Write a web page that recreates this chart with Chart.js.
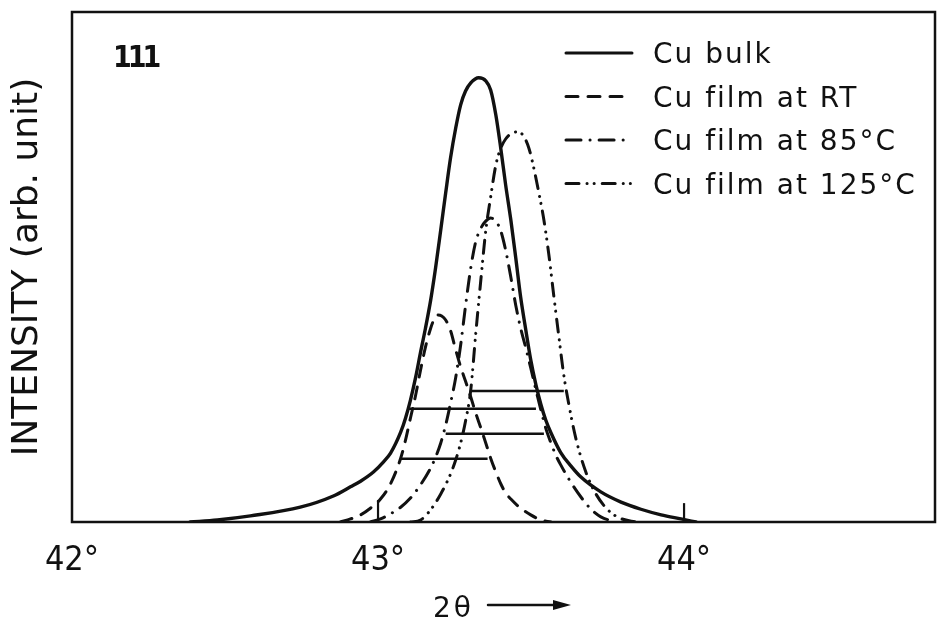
<!DOCTYPE html>
<html>
<head>
<meta charset="utf-8">
<script src="https://cdn.jsdelivr.net/npm/chart.js@4.4.1/dist/chart.umd.min.js"></script>
<style>
  body { margin: 0; background: #fff; }
  canvas { display: block; }
</style>
</head>
<body>
<canvas id="chartCanvas" width="937" height="624"></canvas>
<script>
// values: 2-theta in degrees, intensity in arb. units (frame top = 100)
const xTicks = [42, 43, 44];
const reflection = '111';
const seriesNames = ['Cu bulk', 'Cu film at RT', 'Cu film at 85°C', 'Cu film at 125°C'];

const bulkTheta = [42.386, 42.475, 42.583, 42.746, 42.854, 42.910, 42.943, 42.985, 43.018, 43.041, 43.074, 43.090, 43.106, 43.123, 43.139, 43.155, 43.172, 43.188, 43.205, 43.221, 43.237, 43.254, 43.270, 43.286, 43.303, 43.329, 43.352, 43.368, 43.385, 43.401, 43.417, 43.434, 43.450, 43.466, 43.483, 43.499, 43.516, 43.532, 43.548, 43.565, 43.597, 43.630, 43.663, 43.728, 43.794, 43.859, 43.925, 43.990, 44.039];
const bulkInt = [0, 0.4, 1.2, 2.9, 5.1, 6.9, 8.0, 9.8, 11.8, 13.5, 17.6, 20.4, 23.9, 28.4, 33.3, 38.0, 43.5, 49.8, 57.3, 64.5, 71.4, 77.3, 81.8, 84.5, 86.1, 87.1, 86.5, 84.7, 79.8, 73.3, 66.1, 59.2, 51.8, 44.1, 37.6, 31.8, 26.9, 23.1, 20.0, 17.5, 13.6, 11.0, 8.8, 5.9, 3.9, 2.5, 1.4, 0.6, 0];

const rtTheta = [42.877, 42.910, 42.943, 42.975, 43.008, 43.041, 43.074, 43.090, 43.106, 43.123, 43.139, 43.155, 43.172, 43.182, 43.195, 43.208, 43.221, 43.237, 43.254, 43.270, 43.286, 43.303, 43.319, 43.336, 43.352, 43.368, 43.385, 43.401, 43.417, 43.434, 43.466, 43.499, 43.532, 43.565];
const rtInt = [0, 0.6, 1.4, 2.7, 4.5, 7.5, 12.5, 16.1, 20.4, 24.9, 29.8, 34.3, 38.0, 39.6, 40.6, 40.4, 39.6, 37.5, 33.7, 30.4, 27.6, 24.5, 21.4, 18.4, 15.5, 12.5, 9.8, 7.5, 5.7, 4.5, 2.7, 1.4, 0.4, 0];

const t85Theta = [42.975, 43.008, 43.041, 43.074, 43.106, 43.139, 43.172, 43.188, 43.205, 43.221, 43.237, 43.254, 43.270, 43.286, 43.303, 43.319, 43.336, 43.352, 43.368, 43.385, 43.401, 43.417, 43.434, 43.450, 43.466, 43.483, 43.499, 43.516, 43.532, 43.548, 43.565, 43.581, 43.597, 43.630, 43.663, 43.696, 43.728, 43.777];
const t85Int = [0, 0.6, 1.6, 2.9, 4.7, 7.3, 10.6, 12.7, 15.5, 19.0, 23.3, 28.4, 34.7, 42.4, 49.8, 54.9, 57.6, 59.0, 59.6, 59.0, 57.1, 53.3, 48.0, 42.5, 38.0, 34.1, 30.2, 25.9, 22.0, 18.4, 15.5, 13.1, 11.2, 7.8, 4.9, 2.5, 1.0, 0];

const t125Theta = [43.106, 43.139, 43.172, 43.205, 43.237, 43.254, 43.270, 43.286, 43.303, 43.319, 43.336, 43.352, 43.368, 43.385, 43.401, 43.417, 43.434, 43.453, 43.473, 43.493, 43.509, 43.525, 43.542, 43.558, 43.574, 43.591, 43.607, 43.624, 43.646, 43.679, 43.712, 43.754, 43.797, 43.843];
const t125Int = [0, 0.4, 2.4, 5.5, 9.4, 12.2, 15.5, 19.8, 25.9, 36.7, 47.5, 57.1, 63.7, 70.0, 73.3, 75.1, 76.1, 76.5, 75.9, 73.3, 69.4, 64.7, 59.2, 52.5, 44.5, 36.3, 28.8, 22.9, 16.5, 9.8, 5.5, 2.2, 0.6, 0];

// width bars drawn across each peak (same order as seriesNames)
const barLevel = [22.2, 12.4, 17.3, 25.7];
const barFrom = [43.100, 43.074, 43.221, 43.300];
const barTo = [43.516, 43.358, 43.542, 43.607];

// inner tick marks on the baseline
const innerTickValues = [43, 44];
const tickMarkHeight = [4.3, 3.7];

const ink = '#111';
const dashes = [[], [12, 10], [15, 9, 0.1, 9], [13, 8, 0.1, 7, 0.1, 8]];

const toPts = (xs, ys) => xs.map((x, i) => ({x: x, y: ys[i]}));
const curves = [[bulkTheta, bulkInt], [rtTheta, rtInt], [t85Theta, t85Int], [t125Theta, t125Int]];

const datasets = curves.map((c, i) => ({
    label: seriesNames[i],
    data: toPts(c[0], c[1]),
    showLine: true,
    borderColor: ink,
    borderWidth: i === 0 ? 3.4 : 3,
    borderDash: dashes[i],
    borderCapStyle: 'round',
    cubicInterpolationMode: 'monotone',
    pointRadius: 0
}));

barLevel.forEach((lvl, i) => {
    datasets.push({
        label: 'bar',
        data: [{x: barFrom[i], y: lvl}, {x: barTo[i], y: lvl}],
        showLine: true, borderColor: ink, borderWidth: 2.6, pointRadius: 0
    });
});

innerTickValues.forEach((v, i) => {
    datasets.push({
        label: 'tick',
        data: [{x: v, y: 0}, {x: v, y: tickMarkHeight[i]}],
        showLine: true, borderColor: ink, borderWidth: 2.2, pointRadius: 0
    });
});

// frame, reflection label, legend and the 2-theta arrow
const decorations = {
    id: 'decorations',
    afterDraw(chart) {
        const ctx = chart.ctx;
        const a = chart.chartArea;
        ctx.save();
        ctx.strokeStyle = ink;
        ctx.fillStyle = ink;
        ctx.lineWidth = 2.5;
        ctx.strokeRect(a.left, a.top, a.right - a.left, a.bottom - a.top);

        ctx.font = 'bold 30px "DejaVu Sans Condensed", sans-serif';
        ctx.letterSpacing = '-4px';
        ctx.textBaseline = 'alphabetic';
        ctx.fillText(reflection, a.left + 41, a.top + 55);

        ctx.font = '28px "DejaVu Sans", sans-serif';
        ctx.letterSpacing = '2px';
        ctx.textBaseline = 'middle';
        chart.data.datasets.slice(0, 4).forEach((ds, i) => {
            const y = a.top + 41 + i * 43.5;
            ctx.setLineDash(ds.borderDash);
            ctx.lineCap = 'round';
            ctx.lineWidth = 3;
            ctx.beginPath();
            ctx.moveTo(a.left + 494, y);
            ctx.lineTo(a.left + 560, y);
            ctx.stroke();
            ctx.setLineDash([]);
            ctx.fillText(ds.label, a.left + 581, y + 3);
        });

        ctx.letterSpacing = '3px';
        ctx.textBaseline = 'alphabetic';
        ctx.fillText('2θ', a.left + 361, a.bottom + 95);
        const ay = a.bottom + 83;
        ctx.lineWidth = 2.5;
        ctx.beginPath();
        ctx.moveTo(a.left + 416, ay);
        ctx.lineTo(a.left + 485, ay);
        ctx.stroke();
        ctx.beginPath();
        ctx.moveTo(a.left + 499, ay);
        ctx.lineTo(a.left + 481, ay - 5);
        ctx.lineTo(a.left + 481, ay + 5);
        ctx.closePath();
        ctx.fill();
        ctx.restore();
    }
};

const chartCanvas = document.getElementById('chartCanvas');
const myChart = new Chart(chartCanvas, {
    type: 'scatter',
    data: { datasets: datasets },
    plugins: [decorations],
    options: {
        responsive: false,
        animation: false,
        layout: { padding: { top: 12, right: 2, left: 0, bottom: 0 } },
        plugins: { legend: { display: false }, tooltip: { enabled: false } },
        scales: {
            x: {
                type: 'linear',
                min: 42,
                max: 44.82,
                afterBuildTicks: (axis) => { axis.ticks = xTicks.map(v => ({value: v})); },
                afterFit: (axis) => { axis.height = 102; },
                grid: { display: false, drawTicks: false },
                border: { display: false },
                ticks: {
                    padding: 19,
                    color: ink,
                    font: { family: '"DejaVu Sans Condensed", "DejaVu Sans", sans-serif', size: 34 },
                    callback: (v) => v + '°'
                }
            },
            y: {
                min: 0,
                max: 100,
                afterFit: (axis) => { axis.width = 72; },
                grid: { display: false, drawTicks: false },
                border: { display: false },
                ticks: { display: false },
                title: {
                    display: true,
                    text: 'INTENSITY (arb. unit)',
                    color: ink,
                    padding: { top: 6, bottom: 0 },
                    font: { family: '"DejaVu Sans", sans-serif', size: 36 }
                }
            }
        }
    }
});
</script>
</body>
</html>
